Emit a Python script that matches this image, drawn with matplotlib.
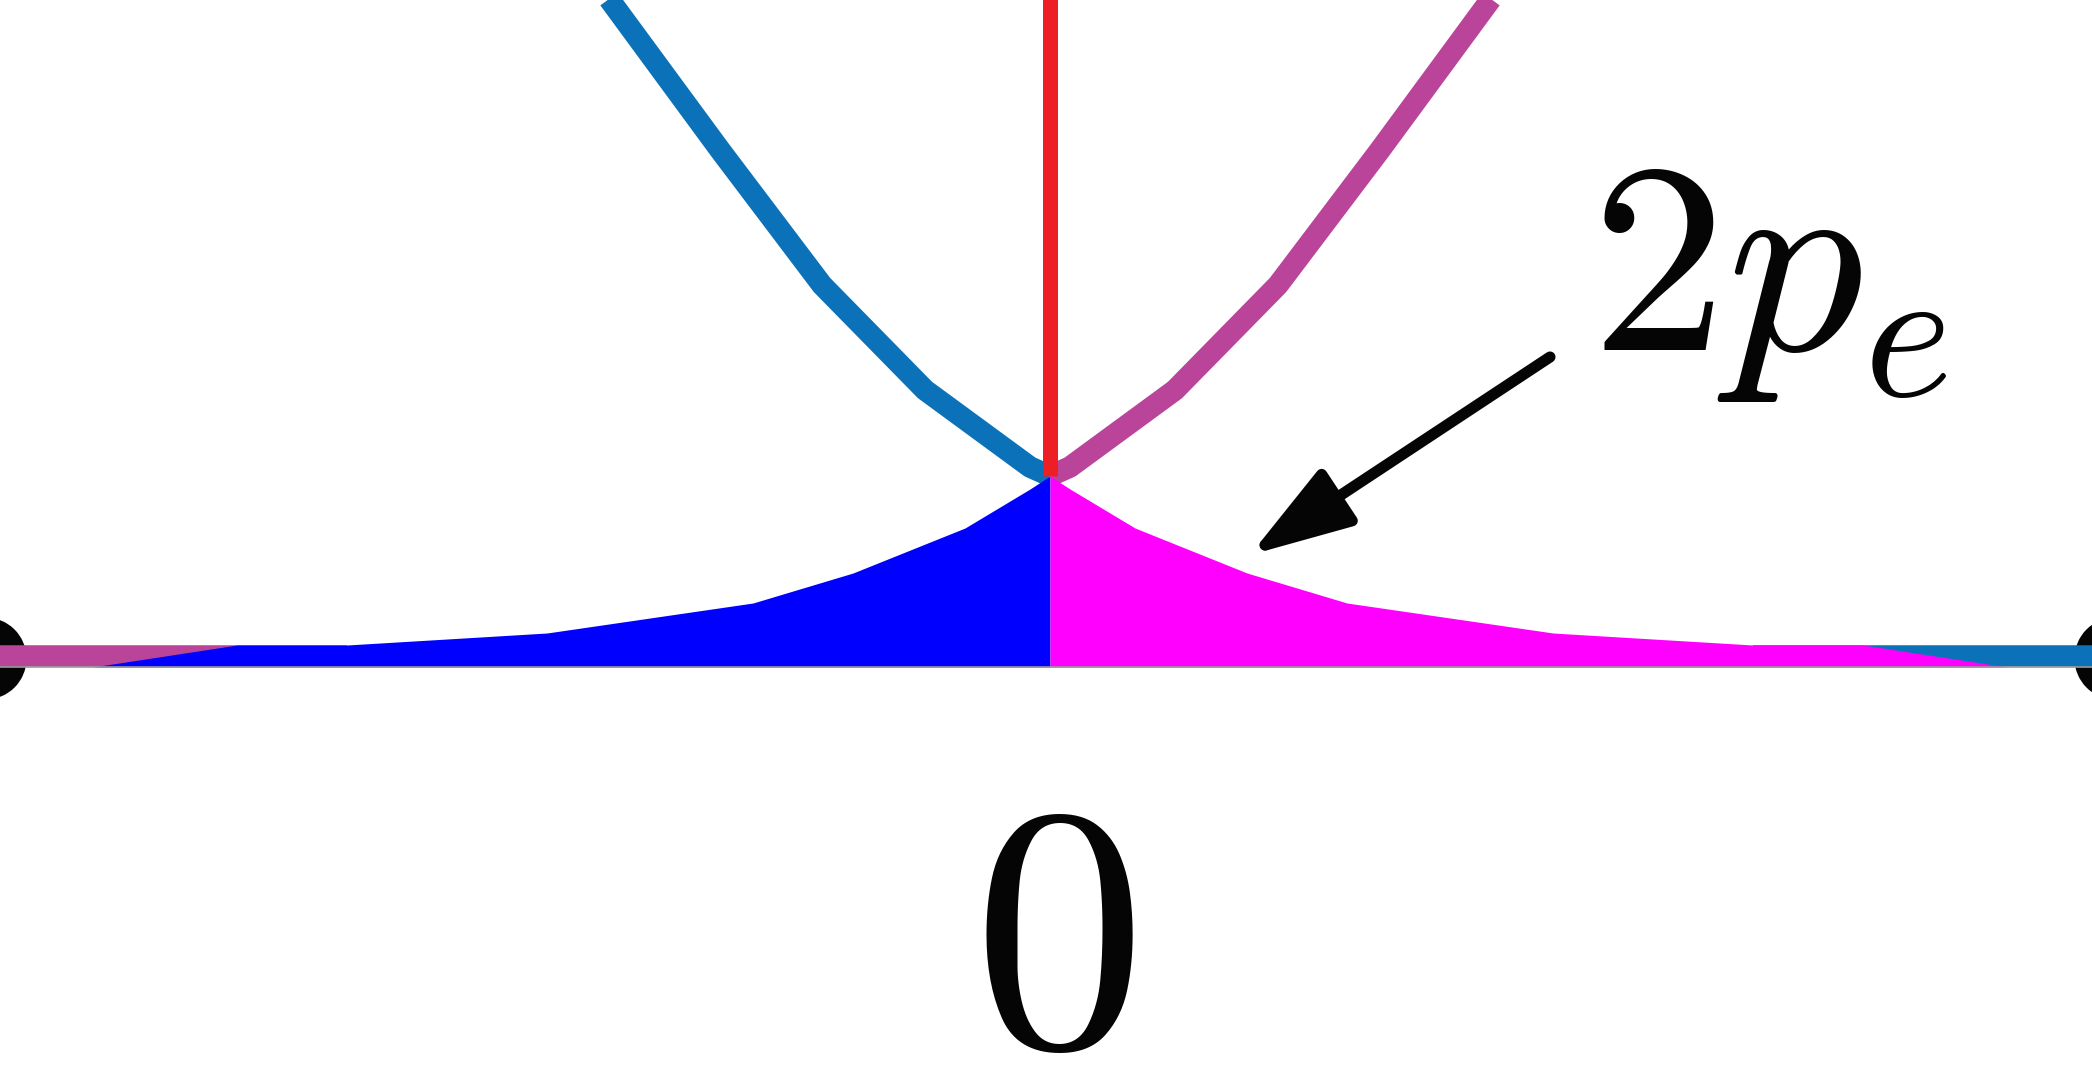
import matplotlib
matplotlib.use("Agg")
import matplotlib.pyplot as plt

plt.rcParams['mathtext.fontset'] = 'cm'

# filled lobes: distance from the centre and height above the baseline (one half, mirrored)
fill_dx = [957, 813, 703, 503, 297, 197, 85, 20, 0]
fill_h = [0, 22, 22, 34, 64, 94, 139, 178, 191]

# upper branches of the two curves (blue goes left, pink goes right)
curve_dx = [477, 330, 228, 125, 20, 0]
curve_h = [717, 517, 382, 277, 200, 191]

# flat parts of the curves and the open circles at the ends
flat_dx = [703, 1200]
flat_h = [11, 11]
ring_dx = [-1065, 1065]
ring_h = [9, 9]

# red vertical line from the peak
red_x = [0, 0]
red_h = [191, 760]

zero_label = '$0$'
pe_label = '$2p_e$'
label_pos = (540, 317)
arrow_tail = (500, 310)
arrow_tip = (200, 112)

blue_line = '#0b72b9'
pink_line = '#b9449a'
red_line = '#ed1f24'

fig = plt.figure(figsize=(20.92, 10.8), dpi=100)
ax = fig.add_axes([0, 0, 1, 1])
ax.set_xlim(-1050, 1042)
ax.set_ylim(-413, 667)
ax.axis('off')

lw = 15.5
ax.plot(ring_dx, ring_h, 'o', ms=41.8, mfc='none', mec='#050505', mew=17.3, zorder=1)

# blue: upper-left branch and flat right part
ax.plot([-d for d in curve_dx], curve_h, color=blue_line, lw=lw, solid_capstyle='butt', zorder=2)
ax.plot(flat_dx, flat_h, color=blue_line, lw=lw, solid_capstyle='butt', zorder=2)
# pink: upper-right branch and flat left part
ax.plot(curve_dx, curve_h, color=pink_line, lw=lw, solid_capstyle='butt', zorder=2)
ax.plot([-d for d in flat_dx], flat_h, color=pink_line, lw=lw, solid_capstyle='butt', zorder=2)

ax.plot(red_x, red_h, color=red_line, lw=10.8, solid_capstyle='butt', zorder=2)

ax.fill_between([-d for d in fill_dx], 0, fill_h, color='#0000ff', lw=0, zorder=3)
ax.fill_between(fill_dx[::-1], 0, fill_h[::-1], color='#ff00ff', lw=0, zorder=3)

ax.axhline(0, color='#9a9a9a', lw=1.2, zorder=4)

ax.annotate('', xy=arrow_tip, xytext=arrow_tail,
            arrowprops=dict(arrowstyle='-|>,head_length=3.1,head_width=1.0',
                            mutation_scale=20, lw=8, color='#050505',
                            shrinkA=0, shrinkB=0), zorder=5)

ax.text(label_pos[0], label_pos[1], pe_label, fontsize=196, ha='left', va='baseline',
        color='#050505', zorder=5)
ax.text(3, -378, zero_label, fontsize=250, ha='center', va='baseline',
        color='#050505', zorder=5)

fig.savefig('out.png', dpi=100)
